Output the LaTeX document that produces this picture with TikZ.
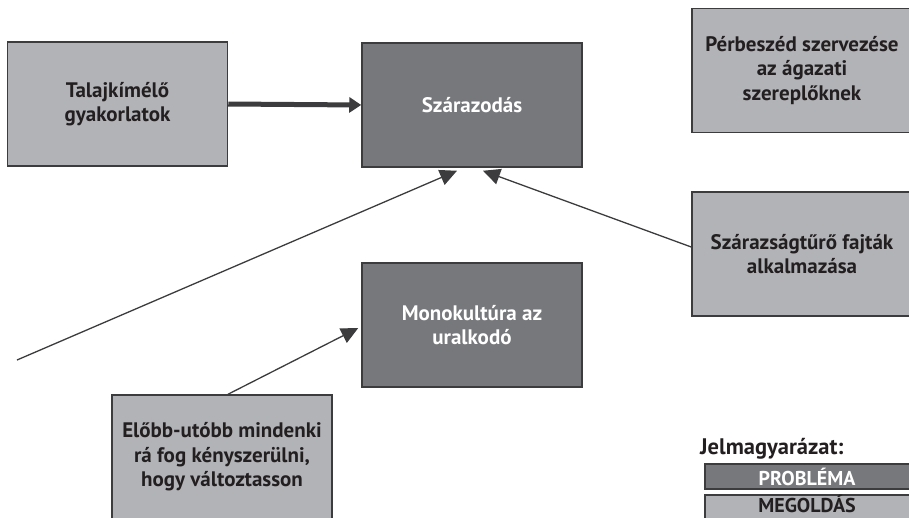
\documentclass[tikz,border=0pt]{standalone}
\usepackage{fontspec}
\setmainfont{PT Sans}
\usetikzlibrary{arrows.meta}
\definecolor{problem}{HTML}{77787B}
\definecolor{solution}{HTML}{B1B3B6}
\definecolor{edge}{HTML}{3C3C3E}
\definecolor{ink}{HTML}{231F20}
\begin{document}
\begin{tikzpicture}[x=1pt, y=-1pt,
    box/.style={draw=edge, line width=1.5pt, minimum width=220pt, minimum height=124pt, inner sep=0pt, align=center, font=\fontsize{21}{24.5}\selectfont\bfseries},
    problembox/.style={box, fill=problem, text=white},
    solutionbox/.style={box, fill=solution, text=ink},
    link/.style={draw=edge, line width=1.3pt, -{Triangle[length=17pt, width=16pt]}},
    keytext/.style={inner sep=0pt, font=\fontsize{20}{21}\selectfont\bfseries}]
    \useasboundingbox (0, 0) rectangle (909, 517) ;
    \clip (0, 0) rectangle (909, 517) ;
    \node[solutionbox] (talaj) at (117.5, 104) {Talajkímélő\\gyakorlatok} ;
    \node[problembox] (szaraz) at (472, 105) {Szárazodás} ;
    \node[solutionbox] (parbeszed) at (802, 70.5) {Pérbeszéd szervezése\\az ágazati\\szereplőknek} ;
    \node[solutionbox] (fajtak) at (802, 254) {Szárazságtűrő fajták\\alkalmazása} ;
    \node[problembox] (mono) at (472, 325) {Monokultúra az\\uralkodó} ;
    \node[solutionbox] (elobb) at (222, 457) {Előbb-utóbb mindenki\\rá fog kényszerülni,\\hogy változtasson} ;
    \coordinate (tail) at (17, 360) ;
    \draw[draw=edge, line width=5pt, -{Triangle[length=12pt, width=15pt]}] (talaj.east) -- (szaraz.west) ;
    \draw[link] (tail) -- ([xshift=-15pt, yshift=-3pt]szaraz.south) ;
    \draw[link] ([yshift=7pt]fajtak.west) -- ([xshift=11pt, yshift=-3pt]szaraz.south) ;
    \draw[link] ([xshift=6pt]elobb.north) -- ([xshift=-3pt, yshift=-3pt]mono.west) ;
    \node[anchor=west, inner sep=0pt, text=ink, font=\fontsize{22.5}{24}\selectfont\bfseries] (jelmagy) at (700, 449) {Jelmagyarázat:} ;
    \draw[draw=edge, line width=1.3pt, fill=problem] (705, 464) rectangle (912, 489) ;
    \draw[draw=edge, line width=1.3pt, fill=solution] (705, 495) rectangle (912, 522) ;
    \node[keytext, text=white] (problema) at (807, 476.5) {PROBLÉMA} ;
    \node[keytext, text=ink] (megoldas) at (807, 504) {MEGOLDÁS} ;
\end{tikzpicture}
\end{document}
